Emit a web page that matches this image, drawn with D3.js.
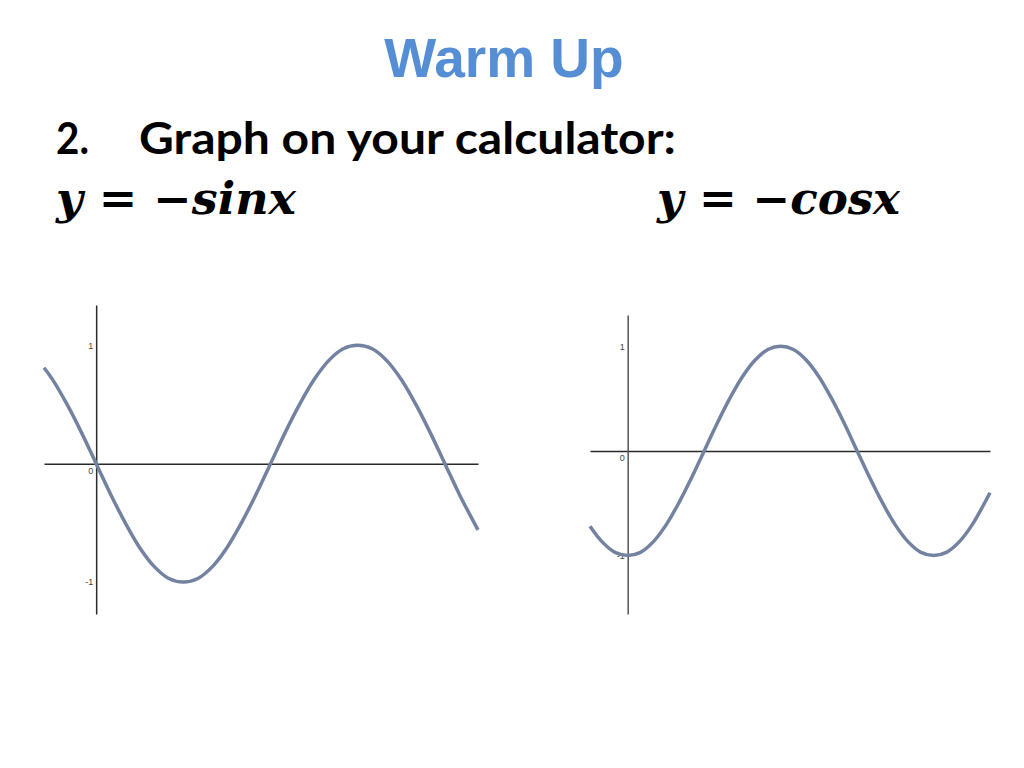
<!DOCTYPE html>
<html>
<head>
<meta charset="utf-8">
<script src="https://cdn.jsdelivr.net/npm/d3@7"></script>
<style>
  body { margin: 0; background: #fff; }
  svg { display: block; }
</style>
</head>
<body>
<div id="mount"></div>
<script>
// points (x in radians)
var sinX = [-0.94, -0.785, -0.524, -0.262, 0, 0.262, 0.524, 0.785, 1.047, 1.309, 1.571, 1.833, 2.094, 2.356, 2.618, 2.880,
            3.142, 3.403, 3.665, 3.927, 4.189, 4.451, 4.712, 4.974, 5.236, 5.498, 5.760, 6.021, 6.283, 6.545, 6.88];
var sinY = [0.81, 0.71, 0.50, 0.26, 0, -0.26, -0.50, -0.71, -0.87, -0.97, -1, -0.97, -0.87, -0.71, -0.50, -0.26,
            0, 0.26, 0.50, 0.71, 0.87, 0.97, 1, 0.97, 0.87, 0.71, 0.50, 0.26, 0, -0.26, -0.56];

var cosX = [-0.774, -0.524, -0.262, 0, 0.262, 0.524, 0.785, 1.047, 1.309, 1.571, 1.833, 2.094, 2.356, 2.618, 2.880, 3.142,
            3.403, 3.665, 3.927, 4.189, 4.451, 4.712, 4.974, 5.236, 5.498, 5.760, 6.021, 6.283, 6.545, 6.807, 7.069, 7.44];
var cosY = [-0.72, -0.87, -0.97, -1, -0.97, -0.87, -0.71, -0.50, -0.26, 0, 0.26, 0.50, 0.71, 0.87, 0.97, 1,
            0.97, 0.87, 0.71, 0.50, 0.26, 0, -0.26, -0.50, -0.71, -0.87, -0.97, -1, -0.97, -0.87, -0.71, -0.40];

var yTicks = [-1, 0, 1];
var yTickLabels = ['-1', '0', '1'];

var titleText = 'Warm Up';
var questionNum = '2.';
var questionText = 'Graph on your calculator:';
var sinLabel = 'y = \u2212sinx';
var cosLabel = 'y = \u2212cosx';

var width = 1024, height = 768;

var svg = d3.select('#mount').append('svg')
    .attr('width', width)
    .attr('height', height);

// slide heading
svg.append('text')
    .attr('x', 504)
    .attr('y', 77)
    .attr('text-anchor', 'middle')
    .style('font-family', '"Liberation Sans", Arial, sans-serif')
    .style('font-weight', 'bold')
    .style('font-size', '55px')
    .style('fill', '#558ed5')
    .text(titleText);

svg.append('text')
    .attr('x', 56)
    .attr('y', 154)
    .attr('textLength', 33)
    .attr('lengthAdjust', 'spacingAndGlyphs')
    .style('font-family', 'Lato, "Open Sans", sans-serif')
    .style('font-weight', 'bold')
    .style('font-size', '43px')
    .text(questionNum);

svg.append('text')
    .attr('x', 139)
    .attr('y', 154)
    .attr('textLength', 537)
    .attr('lengthAdjust', 'spacingAndGlyphs')
    .style('font-family', 'Lato, "Open Sans", sans-serif')
    .style('font-weight', 'bold')
    .style('font-size', '43px')
    .text(questionText);

// equation labels above each graph
[[sinLabel, 56, 240], [cosLabel, 657, 243]].forEach(function(d) {
  svg.append('text')
      .attr('x', d[1])
      .attr('y', 214)
      .attr('textLength', d[2])
      .attr('lengthAdjust', 'spacingAndGlyphs')
      .style('font-family', '"DejaVu Serif", "Liberation Serif", serif')
      .style('font-weight', 'bold')
      .style('font-style', 'italic')
      .style('font-size', '44px')
      .text(d[0]);
});

// one panel per function
function drawPanel(xs, ys, box, axisColor) {
  var x = d3.scaleLinear().domain(box.xDomain).range(box.xRange);
  var y = d3.scaleLinear().domain(box.yDomain).range(box.yRange);

  var g = svg.append('g');

  // horizontal axis through y = 0
  g.append('g')
      .attr('transform', `translate(0,${y(0)})`)
      .call(d3.axisBottom(x).tickValues([]).tickSizeOuter(0))
      .call(a => a.select('.domain').attr('stroke', '#2b2b2b').attr('stroke-width', 1.5));

  // vertical axis through x = 0, labels on its left
  var yAxis = g.append('g')
      .attr('transform', `translate(${x(0)},0)`)
      .call(d3.axisLeft(y).tickValues(yTicks).tickSize(0).tickSizeOuter(0).tickPadding(3)
        .tickFormat((v, i) => yTickLabels[i]));
  yAxis.select('.domain').attr('stroke', axisColor).attr('stroke-width', 1.5);
  yAxis.selectAll('text')
      .style('font-family', '"Liberation Sans", Arial, sans-serif')
      .style('font-size', '9px')
      .style('fill', '#444')
      .attr('dy', v => v === 0 ? '1.05em' : '0.32em');

  var pts = xs.map((v, i) => [v, ys[i]]);
  g.append('path')
      .datum(pts)
      .attr('fill', 'none')
      .attr('stroke', '#7282a0')
      .attr('stroke-width', 3.5)
      .attr('d', d3.line()
        .x(d => x(d[0]))
        .y(d => y(d[1]))
        .curve(d3.curveCatmullRom.alpha(0.5)));
}

drawPanel(sinX, sinY, {
  xDomain: [sinX[0], sinX[sinX.length - 1]], xRange: [44, 478],
  yDomain: [-1.27, 1.34], yRange: [614, 305]
}, '#2b2b2b');

drawPanel(cosX, cosY, {
  xDomain: [cosX[0], cosX[cosX.length - 1]], xRange: [590, 990],
  yDomain: [-1.56, 1.30], yRange: [614, 315]
}, '#555');
</script>
</body>
</html>
